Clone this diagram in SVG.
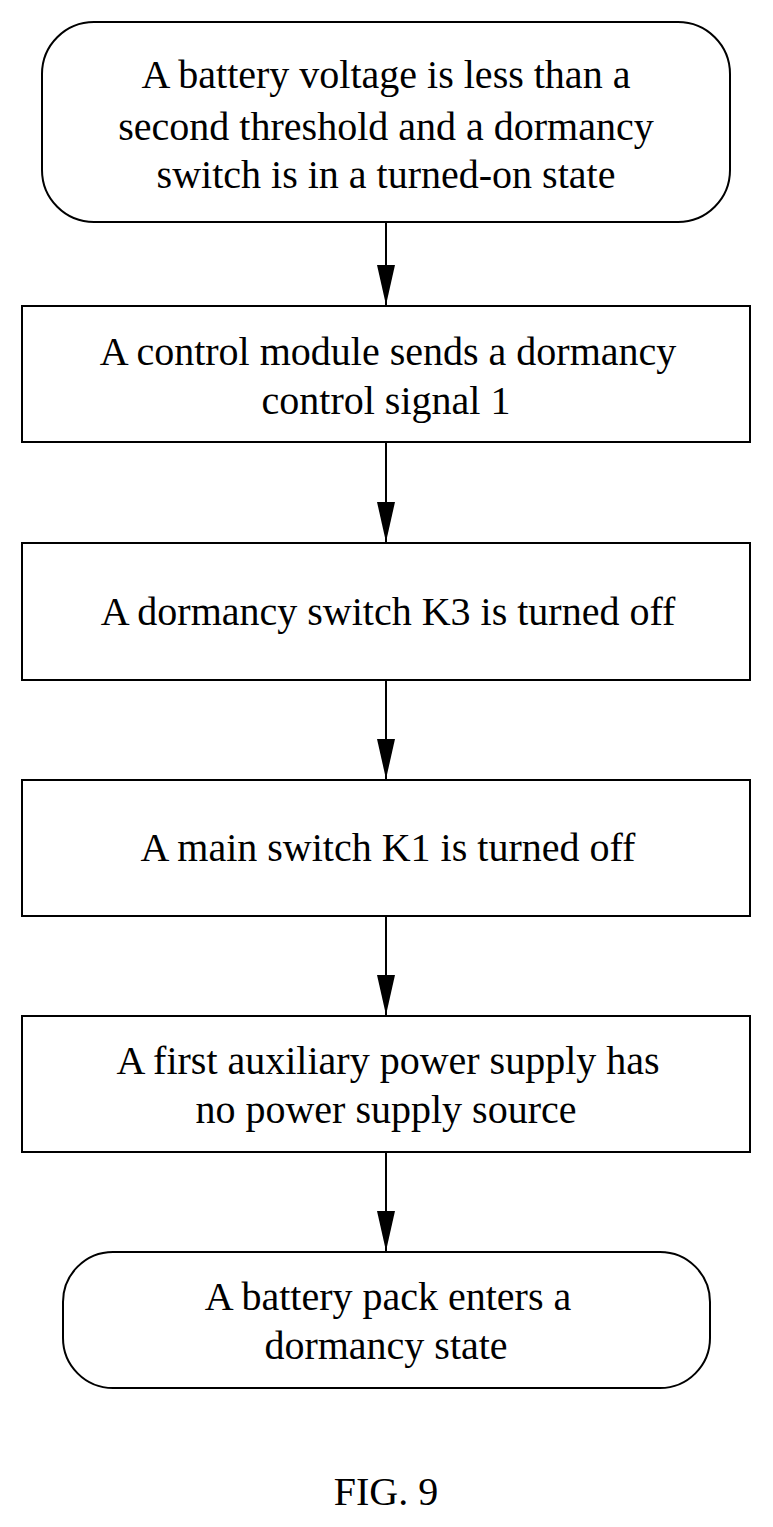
<svg xmlns="http://www.w3.org/2000/svg" width="773" height="1527" viewBox="0 0 773 1527">
<style>
.b{fill:#fff;stroke:#000;stroke-width:2}
.t{font-size:40px;text-anchor:middle;fill:#000}
.c line{stroke:#000;stroke-width:2;marker-end:url(#a)}
</style>
<defs><marker id="a" markerWidth="40" markerHeight="18" refX="40" refY="9" orient="auto" markerUnits="userSpaceOnUse" viewBox="0 0 40 18"><path d="M0,0L40,9L0,18z" fill="#000"/></marker></defs>
<rect width="773" height="1527" fill="#fff"/>
<g class="c">
<line x1="386" y1="222" x2="386" y2="305"/>
<line x1="386" y1="442" x2="386" y2="542"/>
<line x1="386" y1="680" x2="386" y2="779"/>
<line x1="386" y1="916" x2="386" y2="1015"/>
<line x1="386" y1="1152" x2="386" y2="1251"/>
</g>
<g font-family="Liberation Serif, serif">
<g id="n1"><rect class="b" x="42" y="22" width="688" height="200" rx="52"/>
<text class="t" font-family="Liberation Serif, serif" x="386" y="88">A battery voltage is less than a</text>
<text class="t" font-family="Liberation Serif, serif" x="386" y="140">second threshold and a dormancy</text>
<text class="t" font-family="Liberation Serif, serif" x="386" y="188">switch is in a turned-on state</text></g>
<g id="n2"><rect class="b" x="22" y="306" width="728" height="136"/>
<text class="t" font-family="Liberation Serif, serif" x="388" y="365">A control module sends a dormancy</text>
<text class="t" font-family="Liberation Serif, serif" x="386" y="414">control signal 1</text></g>
<g id="n3"><rect class="b" x="22" y="543" width="728" height="137"/>
<text class="t" font-family="Liberation Serif, serif" x="388" y="625">A dormancy switch K3 is turned off</text></g>
<g id="n4"><rect class="b" x="22" y="780" width="728" height="136"/>
<text class="t" font-family="Liberation Serif, serif" x="388" y="861">A main switch K1 is turned off</text></g>
<g id="n5"><rect class="b" x="22" y="1016" width="728" height="136"/>
<text class="t" font-family="Liberation Serif, serif" x="388" y="1074">A first auxiliary power supply has</text>
<text class="t" font-family="Liberation Serif, serif" x="386" y="1123">no power supply source</text></g>
<g id="n6"><rect class="b" x="63" y="1252" width="647" height="136" rx="50"/>
<text class="t" font-family="Liberation Serif, serif" x="388" y="1310">A battery pack enters a</text>
<text class="t" font-family="Liberation Serif, serif" x="386" y="1359">dormancy state</text></g>
<text class="t" font-family="Liberation Serif, serif" x="386" y="1505" font-size="52">FIG. 9</text>
</g>
</svg>
